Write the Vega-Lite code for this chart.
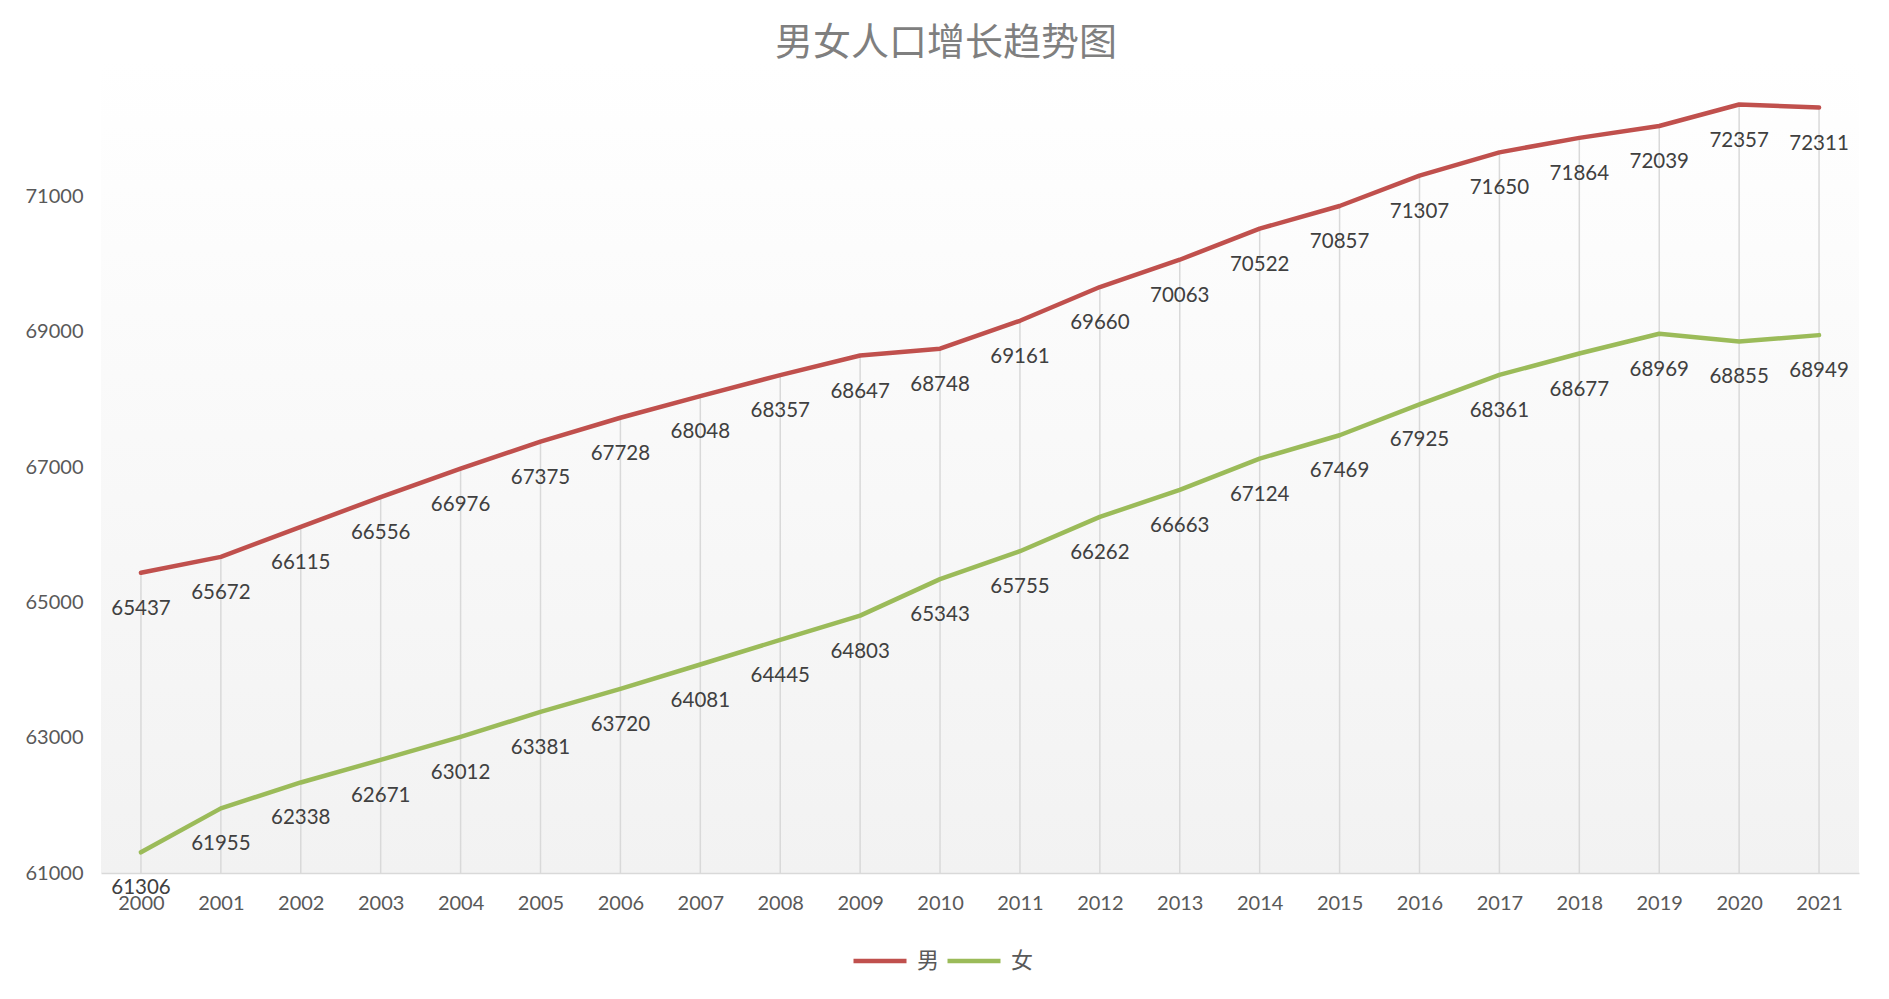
{
  "$schema": "https://vega.github.io/schema/vega-lite/v6.json",
  "autosize": {"type": "none"},
  "width": 1758,
  "height": 812,
  "padding": {"left": 101, "top": 61, "right": 30, "bottom": 126},
  "background": "white",
  "title": {
    "text": "男女人口增长趋势图",
    "font": "Noto Sans CJK SC",
    "fontSize": 38,
    "fontWeight": "normal",
    "color": "#7f7f7f",
    "anchor": "middle",
    "dx": -34,
    "offset": -2
  },
  "config": {
    "view": {
      "stroke": null,
      "fill": {"gradient": "linear", "x1": 0, "y1": 0, "x2": 0, "y2": 1, "stops": [{"offset": 0, "color": "#ffffff"}, {"offset": 1, "color": "#f2f2f2"}]}
    },
    "font": "Lato, Noto Sans CJK SC, sans-serif"
  },
  "data": {
    "values": [
      {"year": "2000", "sex": "男", "value": 65437}, {"year": "2000", "sex": "女", "value": 61306},
      {"year": "2001", "sex": "男", "value": 65672}, {"year": "2001", "sex": "女", "value": 61955},
      {"year": "2002", "sex": "男", "value": 66115}, {"year": "2002", "sex": "女", "value": 62338},
      {"year": "2003", "sex": "男", "value": 66556}, {"year": "2003", "sex": "女", "value": 62671},
      {"year": "2004", "sex": "男", "value": 66976}, {"year": "2004", "sex": "女", "value": 63012},
      {"year": "2005", "sex": "男", "value": 67375}, {"year": "2005", "sex": "女", "value": 63381},
      {"year": "2006", "sex": "男", "value": 67728}, {"year": "2006", "sex": "女", "value": 63720},
      {"year": "2007", "sex": "男", "value": 68048}, {"year": "2007", "sex": "女", "value": 64081},
      {"year": "2008", "sex": "男", "value": 68357}, {"year": "2008", "sex": "女", "value": 64445},
      {"year": "2009", "sex": "男", "value": 68647}, {"year": "2009", "sex": "女", "value": 64803},
      {"year": "2010", "sex": "男", "value": 68748}, {"year": "2010", "sex": "女", "value": 65343},
      {"year": "2011", "sex": "男", "value": 69161}, {"year": "2011", "sex": "女", "value": 65755},
      {"year": "2012", "sex": "男", "value": 69660}, {"year": "2012", "sex": "女", "value": 66262},
      {"year": "2013", "sex": "男", "value": 70063}, {"year": "2013", "sex": "女", "value": 66663},
      {"year": "2014", "sex": "男", "value": 70522}, {"year": "2014", "sex": "女", "value": 67124},
      {"year": "2015", "sex": "男", "value": 70857}, {"year": "2015", "sex": "女", "value": 67469},
      {"year": "2016", "sex": "男", "value": 71307}, {"year": "2016", "sex": "女", "value": 67925},
      {"year": "2017", "sex": "男", "value": 71650}, {"year": "2017", "sex": "女", "value": 68361},
      {"year": "2018", "sex": "男", "value": 71864}, {"year": "2018", "sex": "女", "value": 68677},
      {"year": "2019", "sex": "男", "value": 72039}, {"year": "2019", "sex": "女", "value": 68969},
      {"year": "2020", "sex": "男", "value": 72357}, {"year": "2020", "sex": "女", "value": 68855},
      {"year": "2021", "sex": "男", "value": 72311}, {"year": "2021", "sex": "女", "value": 68949}
    ]
  },
  "encoding": {
    "x": {
      "field": "year", "type": "ordinal",
      "scale": {"type": "point", "padding": 0.5},
      "axis": {"title": null, "labelAngle": 0, "labelFontSize": 20, "labelColor": "#595959", "labelPadding": 20, "ticks": false, "domainColor": "#d9d9d9", "domainWidth": 1.5, "grid": false}
    },
    "y": {
      "field": "value", "type": "quantitative",
      "scale": {"domain": [61000, 73000], "nice": false, "zero": false},
      "axis": {"title": null, "values": [61000, 63000, 65000, 67000, 69000, 71000], "format": "d", "labelFontSize": 20, "labelColor": "#595959", "labelPadding": 18, "ticks": false, "domain": false, "grid": false}
    }
  },
  "layer": [
    {
      "transform": [{"filter": "datum.sex === '男'"}],
      "mark": {"type": "rule", "color": "#d9d9d9", "strokeWidth": 1.5},
      "encoding": {"y2": {"datum": 61000}}
    },
    {
      "mark": {"type": "line", "strokeWidth": 4.5, "strokeCap": "round", "strokeJoin": "round"},
      "encoding": {
        "color": {
          "field": "sex", "type": "nominal",
          "scale": {"domain": ["男", "女"], "range": ["#C0504D", "#9BBB59"]},
          "legend": {"title": null, "orient": "none", "legendX": 750, "legendY": 871, "direction": "horizontal", "symbolType": "stroke", "symbolSize": 2809, "symbolStrokeWidth": 4.5, "labelFontSize": 22, "labelColor": "#595959", "labelOffset": 8, "columnPadding": -2}
        }
      }
    },
    {
      "mark": {"type": "text", "dy": 36, "fontSize": 20.5, "color": "#404040"},
      "encoding": {"text": {"field": "value", "type": "quantitative", "format": "d"}}
    }
  ]
}
